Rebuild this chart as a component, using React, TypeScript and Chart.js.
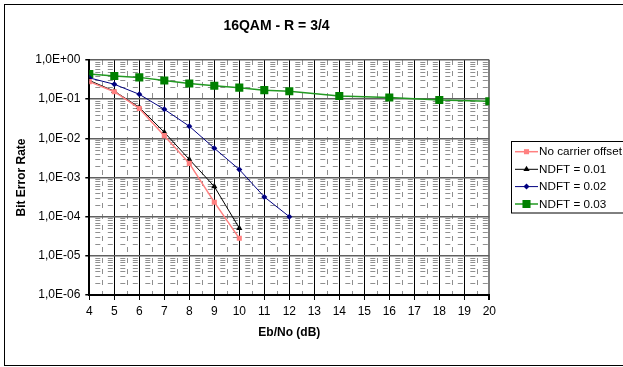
import React, { useEffect, useRef } from "react";
import { Chart, registerables } from "chart.js";

Chart.register(...registerables);

const chartTitle = "16QAM - R = 3/4";
const xTitle = "Eb/No (dB)";
const yTitle = "Bit Error Rate";

const xNoOffset = [4, 5, 6, 7, 8, 9, 10];
const noOffset = [0.28, 0.155, 0.058, 0.0117, 0.0023, 0.000234, 0.000028];

const xNdft01 = [4, 5, 6, 7, 8, 9, 10];
const ndft01 = [0.3, 0.16, 0.062, 0.0143, 0.0029, 0.00059, 0.000051];

const xNdft02 = [4, 5, 6, 7, 8, 9, 10, 11, 12];
const ndft02 = [0.35, 0.24, 0.133, 0.055, 0.0204, 0.0056, 0.0016, 0.00032, 0.0001];

const xNdft03 = [4, 5, 6, 7, 8, 9, 10, 11, 12, 14, 16, 18, 20];
const ndft03 = [0.44, 0.39, 0.36, 0.3, 0.25, 0.22, 0.197, 0.17, 0.16, 0.121, 0.11, 0.095, 0.088];

const seriesNames = ["No carrier offset", "NDFT = 0.01", "NDFT = 0.02", "NDFT = 0.03"];

const yTickValues = [1e-6, 1e-5, 1e-4, 1e-3, 1e-2, 1e-1, 1];
const yTickLabels = ["1,0E-06", "1,0E-05", "1,0E-04", "1,0E-03", "1,0E-02", "1,0E-01", "1,0E+00"];

const FONT = "'Liberation Sans', Arial, sans-serif";

function drawMarker(ctx: CanvasRenderingContext2D, style: string, x: number, y: number, r: number, color: string) {
  ctx.save();
  ctx.fillStyle = color;
  ctx.strokeStyle = color;
  ctx.beginPath();
  if (style === "rect") {
    const s = Math.SQRT1_2 * r;
    ctx.rect(x - s, y - s, 2 * s, 2 * s);
  } else if (style === "triangle") {
    ctx.moveTo(x, y - r);
    ctx.lineTo(x + r * 0.866, y + r * 0.5);
    ctx.lineTo(x - r * 0.866, y + r * 0.5);
    ctx.closePath();
  } else {
    ctx.moveTo(x, y - r);
    ctx.lineTo(x + r, y);
    ctx.lineTo(x, y + r);
    ctx.lineTo(x - r, y);
    ctx.closePath();
  }
  ctx.fill();
  ctx.restore();
}

const customPlugin = {
  id: "custom",
  beforeDraw(chart: any) {
    const ctx = chart.ctx as CanvasRenderingContext2D;
    const { left, right, top, bottom } = chart.chartArea;
    const xs = chart.scales.x;
    const ys = chart.scales.y;
    ctx.save();
    ctx.fillStyle = "#fff";
    ctx.fillRect(0, 0, chart.width, chart.height);
    ctx.strokeStyle = "#8f8f8f";
    ctx.lineWidth = 1;
    // minor horizontal lines
    ctx.setLineDash([5, 7.5]);
    ctx.lineDashOffset = -6;
    for (let d = -6; d < 0; d++) {
      for (let m = 2; m <= 9; m++) {
        const y = Math.round(ys.getPixelForValue(m * Math.pow(10, d))) + 0.5;
        ctx.beginPath();
        ctx.moveTo(left, y);
        ctx.lineTo(right, y);
        ctx.stroke();
      }
    }
    // minor vertical lines
    ctx.setLineDash([5, 6]);
    ctx.lineDashOffset = 0;
    for (let v = 4.5; v < 20; v += 1) {
      const x = Math.round(xs.getPixelForValue(v)) + 0.5;
      ctx.beginPath();
      ctx.moveTo(x, top);
      ctx.lineTo(x, bottom);
      ctx.stroke();
    }
    ctx.restore();
  },
  afterDraw(chart: any) {
    const ctx = chart.ctx as CanvasRenderingContext2D;
    const { left, right, top, bottom } = chart.chartArea;
    ctx.save();
    ctx.fillStyle = "#000";
    ctx.textAlign = "center";
    ctx.textBaseline = "middle";
    ctx.font = `bold 14px ${FONT}`;
    ctx.fillText(chartTitle, 276.5, 26);
    ctx.font = `bold 12px ${FONT}`;
    ctx.fillText(xTitle, (left + right) / 2, 333);
    ctx.save();
    ctx.translate(21.5, (top + bottom) / 2);
    ctx.rotate(-Math.PI / 2);
    ctx.fillText(yTitle, 0, 0);
    ctx.restore();

    // legend
    ctx.strokeStyle = "#000";
    ctx.lineWidth = 1;
    ctx.strokeRect(511.5, 141.5, 200, 71.5);
    const rows = [151.7, 169.3, 186.6, 204];
    const ds = chart.data.datasets;
    ctx.font = `11.7px ${FONT}`;
    ctx.textAlign = "left";
    rows.forEach((ry, i) => {
      const d = ds[i];
      ctx.strokeStyle = d.borderColor;
      ctx.lineWidth = d.borderWidth;
      ctx.beginPath();
      ctx.moveTo(515, ry);
      ctx.lineTo(538, ry);
      ctx.stroke();
      drawMarker(ctx, d.pointStyle, 526.5, ry, d.pointRadius, d.pointBackgroundColor);
      ctx.fillStyle = "#000";
      ctx.fillText(seriesNames[i], 539, ry + 0.5);
    });

    // outer frame
    ctx.strokeStyle = "#000";
    ctx.lineWidth = 1;
    ctx.strokeRect(4.5, 4.5, 700, 361);
    ctx.restore();
  },
};

function toPoints(xs: number[], ys: number[]) {
  return xs.map((x, i) => ({ x, y: ys[i] }));
}

export default function App() {
  const ref = useRef<HTMLCanvasElement | null>(null);
  useEffect(() => {
    document.body.style.margin = "0";
    const canvas = ref.current!;
    const chart = new Chart(canvas, {
      type: "line",
      data: {
        datasets: [
          {
            label: seriesNames[0],
            data: toPoints(xNoOffset, noOffset),
            borderColor: "#ff8080",
            backgroundColor: "#ff8080",
            pointBackgroundColor: "#ff8080",
            pointBorderColor: "#ff8080",
            borderWidth: 1.5,
            pointStyle: "rect",
            pointRadius: 3.6,
            pointBorderWidth: 0,
          },
          {
            label: seriesNames[1],
            data: toPoints(xNdft01, ndft01),
            borderColor: "#000000",
            backgroundColor: "#000000",
            pointBackgroundColor: "#000000",
            pointBorderColor: "#000000",
            borderWidth: 1,
            pointStyle: "triangle",
            pointRadius: 3.6,
            pointBorderWidth: 0,
          },
          {
            label: seriesNames[2],
            data: toPoints(xNdft02, ndft02),
            borderColor: "#000080",
            backgroundColor: "#000080",
            pointBackgroundColor: "#000080",
            pointBorderColor: "#000080",
            borderWidth: 1,
            pointStyle: "rectRot",
            pointRadius: 3,
            pointBorderWidth: 0,
          },
          {
            label: seriesNames[3],
            data: toPoints(xNdft03, ndft03),
            borderColor: "#229922",
            backgroundColor: "#008000",
            pointBackgroundColor: "#008000",
            pointBorderColor: "#008000",
            borderWidth: 1.5,
            pointStyle: "rect",
            pointRadius: 5.7,
            pointBorderWidth: 0,
          },
        ],
      },
      options: {
        responsive: false,
        animation: false,
        events: [],
        layout: { padding: { left: 0, top: 60, right: 133.7, bottom: 0 } },
        plugins: {
          legend: { display: false },
          title: { display: false },
          tooltip: { enabled: false },
        },
        scales: {
          x: {
            type: "linear",
            min: 4,
            max: 20,
            ticks: {
              stepSize: 1,
              color: "#000",
              padding: 4,
              font: { family: FONT, size: 12 },
            },
            grid: {
              color: (c: any) => (c.tick && c.tick.value === 20 ? "#808080" : "#000"),
              lineWidth: (c: any) => (c.tick && c.tick.value === 20 ? 2 : 1),
              tickColor: "#000",
              tickLength: 5,
            },
            border: { color: "#000", width: 2 },
            afterFit: (s: any) => {
              s.height = 72;
            },
          },
          y: {
            type: "logarithmic",
            min: 1e-6,
            max: 1,
            afterBuildTicks: (s: any) => {
              s.ticks = yTickValues.map((v) => ({ value: v }));
            },
            ticks: {
              color: "#000",
              padding: 5,
              autoSkip: false,
              font: { family: FONT, size: 12 },
              callback: (v: any) => {
                const i = yTickValues.findIndex((t) => Math.abs(Math.log10(t) - Math.log10(Number(v))) < 1e-6);
                return i >= 0 ? yTickLabels[i] : "";
              },
            },
            grid: {
              color: "#606060",
              lineWidth: 1.5,
              tickColor: "#000",
              tickLength: 4,
            },
            border: { color: "#000", width: 2 },
            afterFit: (s: any) => {
              s.width = 89.3;
            },
          },
        },
      },
      plugins: [customPlugin],
    } as any);
    return () => chart.destroy();
  }, []);
  return (
    <div style={{ position: "absolute", left: 0, top: 0, width: 623, height: 367, background: "#fff" }}>
      <canvas ref={ref} width={623} height={367} />
    </div>
  );
}
